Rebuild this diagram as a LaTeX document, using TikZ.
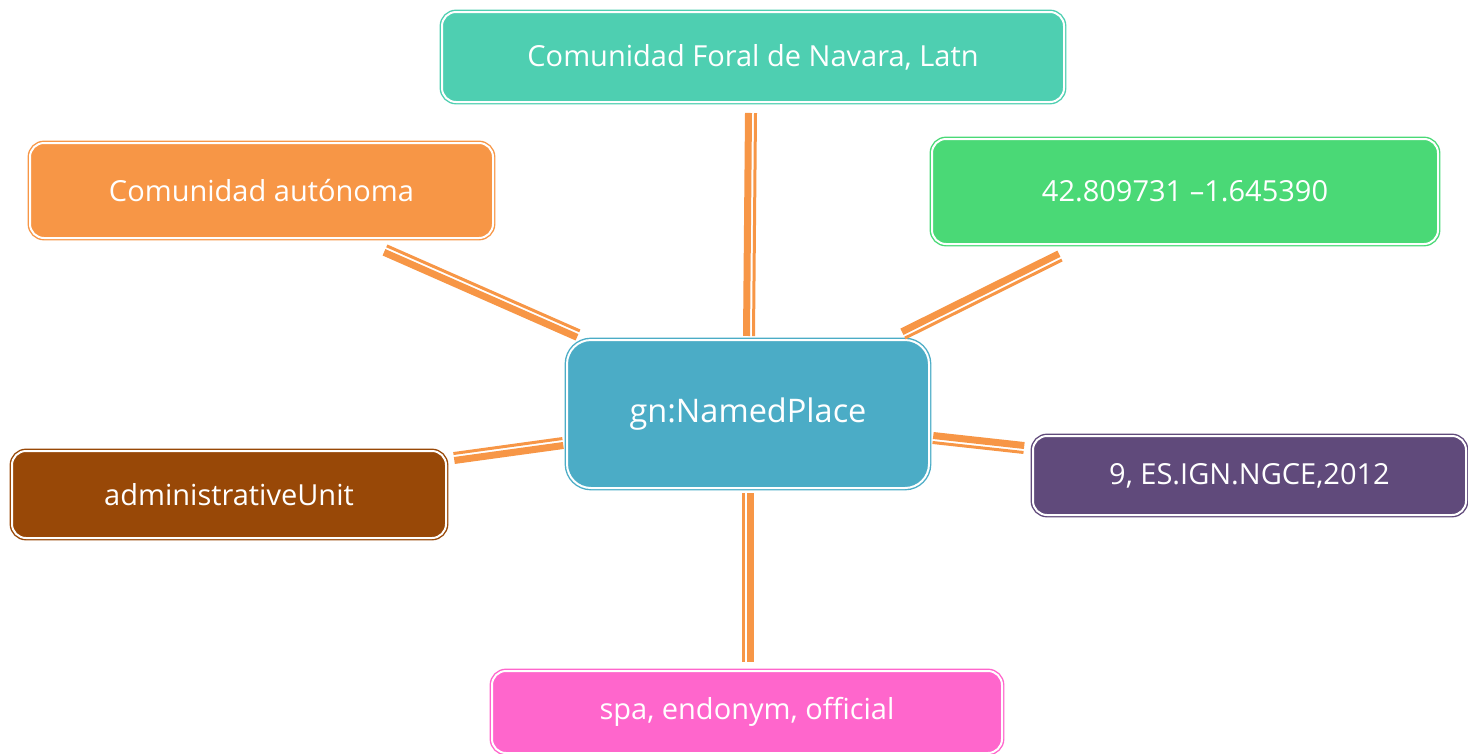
\documentclass[tikz,border=0pt]{standalone}
\usepackage{fontspec}
\setmainfont{Open Sans}
\usetikzlibrary{calc}
\definecolor{cteal}{HTML}{4ECFB1}
\definecolor{corange}{HTML}{F79646}
\definecolor{cgreen}{HTML}{4AD976}
\definecolor{cblue}{HTML}{4BACC6}
\definecolor{cbrown}{HTML}{984807}
\definecolor{cpurple}{HTML}{604A7B}
\definecolor{cpink}{HTML}{FF66CC}
\definecolor{cline}{HTML}{F79646}
\tikzset{
  box/.style={draw=#1, fill=#1, double=white, double distance=2pt, line width=1.4pt,
    rounded corners=14pt, inner sep=0pt, text=white, align=center,
    font=\fontsize{29}{34}\selectfont},
  thickc/.style={draw=cline, line width=7pt},
  thinc/.style={draw=cline, line width=3pt},
}
\newcommand\conn[2]{%
  \draw[thickc] ($(#1)!2.5pt!90:(#2)$) -- ($(#2)!2.5pt!-90:(#1)$);
  \draw[thinc] ($(#1)!-4.5pt!90:(#2)$) -- ($(#2)!-4.5pt!-90:(#1)$);
}
\begin{document}
\begin{tikzpicture}[x=1pt,y=-1pt]
\useasboundingbox (0,0) rectangle (1468,753);
% nodes
\node[box=cteal, minimum width=622pt, minimum height=90pt] (top) at (753,57) {Comunidad Foral de Navara, Latn};
\node[box=corange, minimum width=463pt, minimum height=95pt] (ul) at (261.5,190.5) {Comunidad autónoma};
\node[box=cgreen, minimum width=506pt, minimum height=105pt] (ur) at (1185,191.5) {42.809731 –1.645390};
\node[box=cblue, minimum width=362pt, minimum height=148pt, rounded corners=24pt, font=\fontsize{32.5}{38}\selectfont] (c) at (748,414) {gn:NamedPlace};
\node[box=cbrown, minimum width=434pt, minimum height=87pt] (l) at (229,494.5) {administrativeUnit};
\node[box=cpurple, minimum width=433pt, minimum height=79pt] (r) at (1249.5,475.5) {9, ES.IGN.NGCE,2012};
\node[box=cpink, minimum width=510pt, minimum height=82pt] (b) at (747,712) {spa, endonym, official};
% connector end points
\coordinate (ct) at (749,336);   \coordinate (ot) at (751,113);
\coordinate (cb) at (748,493);   \coordinate (ob) at (748,662);
\coordinate (cul) at (578,335);  \coordinate (oul) at (385,250);
\coordinate (cur) at (903,334);  \coordinate (our) at (1060,256);
\coordinate (cl) at (563,443);   \coordinate (ol) at (454,458);
\coordinate (cr) at (933,438);   \coordinate (or) at (1024,448);
\conn{ct}{ot}
\conn{cb}{ob}
\conn{cul}{oul}
\conn{cur}{our}
\conn{cl}{ol}
\conn{cr}{or}
\end{tikzpicture}
\end{document}
